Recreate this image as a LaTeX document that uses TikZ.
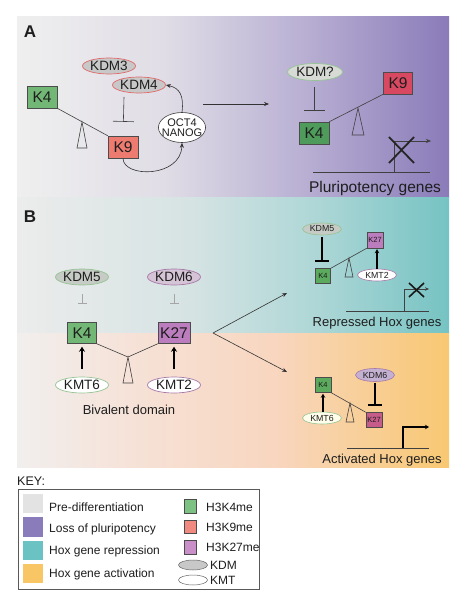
\documentclass[tikz,border=0pt]{standalone}
\usepackage{fontspec}
\setmainfont{Liberation Sans}
\usetikzlibrary{shapes.geometric,arrows.meta}
\newcommand{\fsz}[1]{\fontsize{#1}{#1}\selectfont}
\definecolor{pA0}{HTML}{EFEFEF}
\definecolor{pA1}{HTML}{E0DDE6}
\definecolor{pA2}{HTML}{B9B0D3}
\definecolor{pA3}{HTML}{8A7BB9}
\definecolor{pT0}{HTML}{ECECEC}
\definecolor{pT1}{HTML}{D6E3E3}
\definecolor{pT2}{HTML}{ADD6D6}
\definecolor{pT3}{HTML}{76C3C3}
\definecolor{pO0}{HTML}{F1EFEE}
\definecolor{pO1}{HTML}{F6E2D8}
\definecolor{pO2}{HTML}{F8D6BF}
\definecolor{pO3}{HTML}{F8C872}
\definecolor{cK4}{HTML}{72B776}
\definecolor{cK4d}{HTML}{4E9B5B}
\definecolor{cK4s}{HTML}{5BAA5E}
\definecolor{cK9}{HTML}{EE7B70}
\definecolor{cK9d}{HTML}{D84860}
\definecolor{cK27}{HTML}{BC7DBE}
\definecolor{cK27a}{HTML}{C65C89}
\definecolor{kdmgray}{HTML}{C8C8C8}
\definecolor{kdmgg}{HTML}{C6CBC5}
\definecolor{kdmlight}{HTML}{D8DAD6}
\definecolor{kdmlav}{HTML}{D5C4D5}
\definecolor{kdmlavd}{HTML}{C4B0D0}
\definecolor{kdmred}{HTML}{E06A6A}
\definecolor{kdmgreen}{HTML}{96C494}
\definecolor{kdmpurple}{HTML}{A779A8}
\definecolor{keygray}{HTML}{E3E3E3}
\definecolor{keypurple}{HTML}{8A7CBB}
\definecolor{keyteal}{HTML}{6BC2C3}
\definecolor{keyorange}{HTML}{F8C664}
\definecolor{keyK4}{HTML}{7DC283}
\definecolor{keyK9}{HTML}{F08A80}
\definecolor{keyK27}{HTML}{C98FC8}
\definecolor{ink}{HTML}{1E1E1E}
\pgfdeclarehorizontalshading{shadeA}{100bp}{color(0bp)=(pA0); color(25bp)=(pA0); color(42bp)=(pA1); color(58bp)=(pA2); color(75bp)=(pA3); color(100bp)=(pA3)}
\pgfdeclarehorizontalshading{shadeT}{100bp}{color(0bp)=(pT0); color(25bp)=(pT0); color(45bp)=(pT1); color(60bp)=(pT2); color(75bp)=(pT3); color(100bp)=(pT3)}
\pgfdeclarehorizontalshading{shadeO}{100bp}{color(0bp)=(pO0); color(25bp)=(pO0); color(38bp)=(pO1); color(55bp)=(pO2); color(75bp)=(pO3); color(100bp)=(pO3)}
\tikzset{
  hbox/.style={draw=black!70, line width=0.5pt, inner sep=0pt, minimum width=30pt, minimum height=22pt, font=\fsz{15.5}, text=ink},
  sbox/.style={draw=black!70, line width=0.4pt, inner sep=0pt, minimum width=15pt, minimum height=15pt, font=\fsz{7.5}, text=ink},
  enz/.style={ellipse, line width=0.7pt, inner sep=0pt, minimum width=53pt, minimum height=16pt, font=\fsz{13.5}, text=ink},
  senz/.style={ellipse, line width=0.6pt, inner sep=0pt, minimum width=39pt, minimum height=12pt, font=\fsz{8.8}, text=ink},
  sea/.style={draw=black!75, line width=0.6pt},
  ful/.style={draw=black!75, line width=0.6pt},
  thin/.style={draw=black!75, line width=0.6pt},
  arr/.style={draw=black!80, line width=0.6pt, -{Stealth[length=5pt,width=4pt]}},
  tarr/.style={draw=black, line width=2pt, -{Stealth[length=5pt,width=6pt]}},
  marr/.style={draw=black, line width=1.5pt, -{Stealth[length=4pt,width=4.5pt]}},
  tinh/.style={draw=black, line width=2.5pt, -{Bar[width=14pt,line width=2.5pt]}},
  lbl/.style={font=\fsz{13}, text=ink},
  keyt/.style={font=\fsz{12}, text=ink, anchor=west, inner sep=0pt},
}
\begin{document}
\begin{tikzpicture}[x=1pt,y=-1pt]
\useasboundingbox (0,0) rectangle (465,599);
\fill[white] (0,0) rectangle (465,599);
\shade[shading=shadeA] (17,17) rectangle (449,197);
\shade[shading=shadeT] (17,197) rectangle (449,333);
\shade[shading=shadeO] (17,333) rectangle (449,467);

% Panel labels
\node[font=\fsz{17}\bfseries, text=ink] (labA) at (30,32) {A};
\node[font=\fsz{17}\bfseries, text=ink] (labB) at (30,217) {B};

% ---- Panel A left
\node[enz, draw=kdmred, fill=kdmgray] (KDM3) at (109,66) {KDM3};
\node[enz, draw=kdmred, fill=kdmgray] (KDM4) at (139,85) {KDM4};
\node[hbox, fill=cK4] (K4a) at (42,97) {K4};
\node[hbox, fill=cK9] (K9a) at (123,147) {K9};
\node[ellipse, draw=black!75, line width=0.6pt, fill=white, inner xsep=-3.5pt, inner ysep=0pt, minimum width=47pt, minimum height=30pt, align=center, font=\fsz{11}, text=ink] (oct) at (182,127.5) {OCT4\\[-1.5pt]NANOG};
\draw[sea] (K4a.south east) -- (K9a.north west);
\draw[ful] (82,122) -- (77,148) -- (87,148) -- cycle;
\coordinate (ia1) at (124,97);
\draw[thin, -{Bar[width=21pt,line width=0.6pt]}, shorten >=14pt] (ia1) -- (K9a.north);
\draw[arr] (K9a.south) .. controls (123,178) and (181,178) .. (oct.south);
\draw[arr] (oct.north) .. controls (184,96) and (180,88) .. (KDM4.east);
\coordinate (la1) at (203,104);
\coordinate (la2) at (269,104);
\draw[arr] (la1) -- (la2);

% ---- Panel A right
\node[enz, draw=kdmgreen, fill=kdmlight, minimum width=55pt, minimum height=17pt] (KDMq) at (315,72) {KDM?};
\node[hbox, fill=cK4d] (K4r) at (314,133) {K4};
\node[hbox, fill=cK9d, minimum width=29pt] (K9r) at (398,83) {K9};
\draw[sea] (K4r.north east) -- (K9r.south west);
\draw[ful] (358,108) -- (352,135) -- (364,135) -- cycle;
\draw[thin, -{Bar[width=21pt,line width=0.6pt]}, shorten <=6pt, shorten >=11pt] (K4r.north |- KDMq.south) -- (K4r.north);
\coordinate (ga1) at (313,172);
\coordinate (ga2) at (430,172);
\coordinate (gap) at (394,172);
\coordinate (gat) at (394,141);
\coordinate (gaa) at (431,141);
\draw[thin] (ga1) -- (ga2);
\draw[thin, -{Stealth[length=5pt,width=4pt]}] (gap) -- (gat) -- (gaa);
\draw[draw=black!85, line width=1.8pt] (389,137) -- (414,163) (414,137) -- (389,163);
\node[font=\fsz{15.5}, text=ink] (tplu) at (375,188) {Pluripotency genes};

% ---- Panel B middle
\node[enz, draw=kdmgreen, fill=kdmgg] (KDM5) at (82,277) {KDM5};
\node[enz, draw=kdmpurple, fill=kdmlav] (KDM6) at (174,277) {KDM6};
\node[hbox, fill=cK4, minimum width=29pt, minimum height=21pt] (K4b) at (82,333) {K4};
\node[hbox, fill=cK27, minimum width=32pt, minimum height=21pt] (K27b) at (174,333) {K27};
\node[enz, draw=kdmgreen, fill=white] (KMT6) at (82,385) {KMT6};
\node[enz, draw=kdmpurple, fill=white] (KMT2) at (174,385) {KMT2};
\draw[draw=black!35, line width=0.5pt, -{Bar[width=9pt,line width=0.5pt]}, shorten <=9pt, shorten >=19pt] (KDM5) -- (K4b);
\draw[draw=black!35, line width=0.5pt, -{Bar[width=9pt,line width=0.5pt]}, shorten <=9pt, shorten >=19pt] (KDM6) -- (K27b);
\coordinate (apB) at (128,357);
\draw[sea] (K4b.south east) -- (apB) -- (K27b.south west);
\draw[ful] (apB) -- (123,383) -- (133,383) -- cycle;
\draw[tarr, shorten <=8pt, shorten >=3pt] (KMT6.north) -- (K4b.south);
\draw[tarr, shorten <=8pt, shorten >=3pt] (KMT2.north) -- (K27b.south);
\node[lbl] (tbiv) at (129,410) {Bivalent domain};
\coordinate (fork) at (213,333);
\coordinate (fup) at (287,293);
\coordinate (fdn) at (287,372);
\draw[arr] (fork) -- (fup);
\draw[arr] (fork) -- (fdn);

% ---- Repressed
\node[senz, draw=kdmgreen, fill=kdmgg] (KDM5r) at (322,229) {KDM5};
\node[sbox, fill=cK4s] (K4s) at (323,276) {K4};
\node[sbox, fill=cK27, minimum width=16pt, minimum height=16pt] (K27s) at (375,240) {K27};
\node[senz, draw=kdmpurple, fill=white] (KMT2r) at (377,275) {KMT2};
\draw[tinh, shorten <=2pt, shorten >=6pt] (KDM5r.south) -- (KDM5r.south |- K4s.north);
\draw[marr, shorten >=1pt] (KMT2r.north) -- (KMT2r.north |- K27s.south);
\draw[sea] (K4s.north east) -- (K27s.south west);
\draw[ful] (349,258) -- (345,277) -- (353,277) -- cycle;
\coordinate (gr1) at (346,311);
\coordinate (gr2) at (429,311);
\coordinate (grp) at (404,311);
\coordinate (grt) at (404,289);
\coordinate (gra) at (429,289);
\draw[thin] (gr1) -- (gr2);
\draw[thin, -{Stealth[length=4pt,width=3.5pt]}] (grp) -- (grt) -- (gra);
\draw[draw=black!90, line width=1.6pt] (409,283) -- (424,297) (424,283) -- (409,297);
\node[lbl] (trep) at (377,323) {Repressed Hox genes};

% ---- Activated
\node[senz, draw=kdmpurple, fill=kdmlavd, minimum height=13pt] (KDM6t) at (375,375) {KDM6};
\node[sbox, fill=cK4s, minimum width=16pt] (K4t) at (323,385) {K4};
\node[sbox, fill=cK27a, minimum width=16pt] (K27t) at (374,420) {K27};
\node[senz, draw=kdmgreen, fill=white!92!yellow] (KMT6t) at (322,418) {KMT6};
\draw[tinh, shorten <=1pt, shorten >=6pt] (KDM6t.south) -- (KDM6t.south |- K27t.north);
\draw[marr, shorten >=1pt] (K4t.south |- KMT6t.north) -- (K4t.south);
\draw[sea] (K4t.south east) -- (K27t.north west);
\draw[ful] (350,403) -- (346,422) -- (354,422) -- cycle;
\coordinate (gt1) at (347,448);
\coordinate (gt2) at (429,448);
\coordinate (gtp) at (403,448);
\coordinate (gtt) at (403,427);
\coordinate (gta) at (429,427);
\draw[thin] (gt1) -- (gt2);
\draw[draw=black, line width=1.5pt, -{Stealth[length=4pt,width=4.5pt]}] (gtp) -- (gtt) -- (gta);
\node[lbl] (tact) at (382,460) {Activated Hox genes};

% ---- Key
\node[font=\fsz{12.5}, text=ink, anchor=west, inner sep=0pt] (tkey) at (17,481) {KEY:};
\draw[draw=black!65, line width=0.6pt] (18,489) rectangle (259,589);
\fill[keygray] (23,494) rectangle (43,513);
\fill[keypurple] (23,517) rectangle (43,537);
\fill[keyteal] (23,541) rectangle (43,560);
\fill[keyorange] (23,564) rectangle (43,583);
\node[keyt] (k1) at (49,507) {Pre-differentiation};
\node[keyt] (k2) at (49,529) {Loss of pluripotency};
\node[keyt] (k3) at (49,551) {Hox gene repression};
\node[keyt] (k4) at (49,574) {Hox gene activation};
\draw[draw=black!70, line width=0.5pt, fill=keyK4] (184,499) rectangle (196,513);
\draw[draw=black!70, line width=0.5pt, fill=keyK9] (184,520) rectangle (196,533);
\draw[draw=black!70, line width=0.5pt, fill=keyK27] (184,540) rectangle (196,554);
\node[ellipse, draw=black!60, fill=kdmgray, line width=0.5pt, minimum width=29pt, minimum height=10pt, inner sep=0pt] (kdmk) at (193,565) {};
\node[ellipse, draw=black!60, fill=white, line width=0.5pt, minimum width=29pt, minimum height=10pt, inner sep=0pt] (kmtk) at (193,580) {};
\node[keyt] (k5) at (206,507) {H3K4me};
\node[keyt] (k6) at (206,527) {H3K9me};
\node[keyt] (k7) at (206,547) {H3K27me};
\node[keyt] (k8) at (210,565) {KDM};
\node[keyt] (k9) at (210,580) {KMT};
\end{tikzpicture}
\end{document}
